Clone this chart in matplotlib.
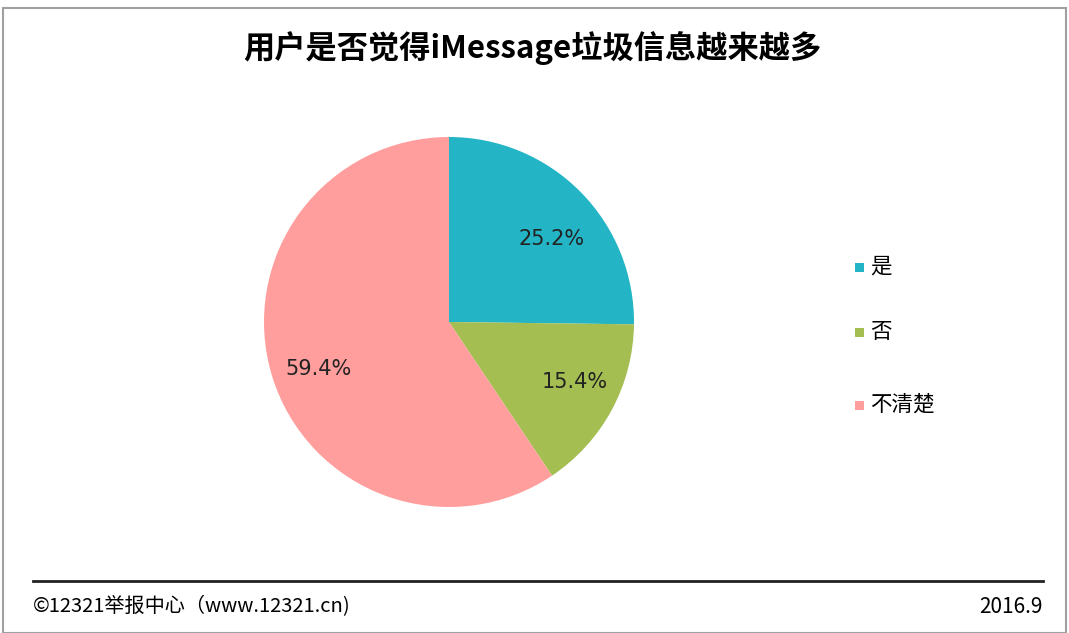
import matplotlib.pyplot as plt
from matplotlib.patches import Rectangle

plt.rcParams['font.family'] = ['Noto Sans CJK SC', 'DejaVu Sans']

labels = ["是", "否", "不清楚"]
values = [25.2, 15.4, 59.4]
colors = ["#23B5C6", "#A4BE52", "#FF9E9D"]

W, H = 1069, 633
fig = plt.figure(figsize=(W / 100, H / 100), dpi=100)

# frame
fig.patches.append(Rectangle((3 / W, 0), (W - 6) / W, (H - 8) / H, transform=fig.transFigure,
                             fill=False, edgecolor="#A0A0A0", linewidth=1.5))

# pie: centre (449, 322), radius 185 px
cx, cy, r = 449, 322, 185
ax = fig.add_axes([(cx - r) / W, (H - cy - r) / H, 2 * r / W, 2 * r / H])
wedges, texts, pcts = ax.pie(values, colors=colors, startangle=90, counterclock=False, radius=1,
                             autopct="%.1f%%", pctdistance=0.74,
                             textprops={"fontsize": 15, "color": "#222222", "family": ["DejaVu Sans"]})
# nudge labels slightly as in the reference
for t, (dx, dy) in zip(pcts, [(0.03, -0.07), (0.03, 0.03), (0.0, -0.04)]):
    x, y = t.get_position()
    t.set_position((x + dx, y + dy))
ax.set_xlim(-1, 1)
ax.set_ylim(-1, 1)
ax.axis("off")

fig.text(532 / W, 1 - 48 / H, "用户是否觉得iMessage垃圾信息越来越多", ha="center", va="center",
         fontsize=22.5, fontweight="bold")

# legend
leg_y = [267, 332, 405]
for lab, col, y in zip(labels, colors, leg_y):
    fig.patches.append(Rectangle((855 / W, 1 - (y + 5) / H), 9 / W, 9 / H, transform=fig.transFigure,
                                 facecolor=col, edgecolor="none"))
    fig.text(870 / W, 1 - y / H, lab, ha="left", va="center", fontsize=15.5)

# footer
fig.add_artist(plt.Line2D([33 / W, 1043 / W], [1 - 581 / H, 1 - 581 / H], color="#222222", linewidth=2))
fig.text(33 / W, 1 - 607 / H, "©12321举报中心（www.12321.cn)", ha="left", va="center", fontsize=14.5)
fig.text(1043 / W, 1 - 607 / H, "2016.9", ha="right", va="center", fontsize=15)

fig.savefig("out.png", dpi=100)
